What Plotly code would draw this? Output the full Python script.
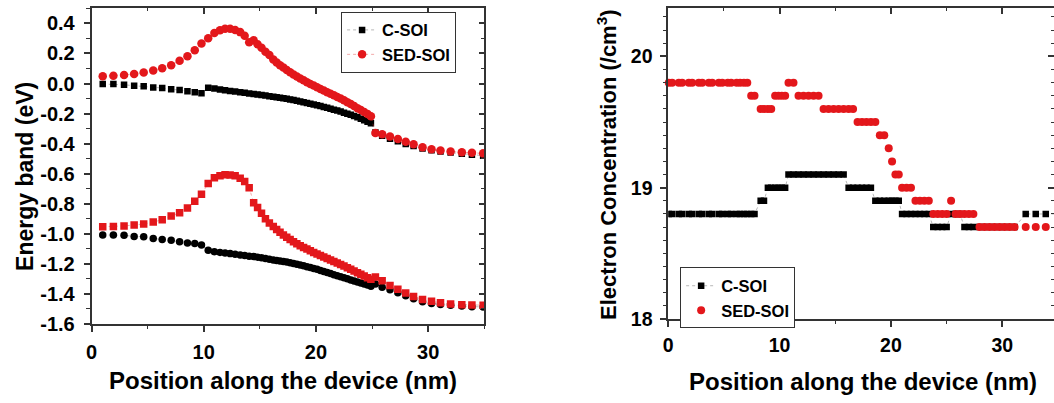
import plotly.graph_objects as go

# ---------------- Energy band panel ----------------
pos_nm = [
    1.0, 1.95, 2.9, 3.8, 4.65, 5.5, 6.3, 7.1, 7.85, 8.55,
    9.2, 9.8, 10.4, 10.95, 11.45, 11.9, 12.35, 12.8, 13.25, 13.65,
    14.05, 14.45, 14.8, 15.15, 15.5, 15.85, 16.2, 16.5, 16.8, 17.1,
    17.4, 17.7, 18.0, 18.3, 18.6, 18.9, 19.2, 19.5, 19.8, 20.1,
    20.4, 20.7, 21.0, 21.3, 21.6, 21.9, 22.2, 22.5, 22.8, 23.1,
    23.4, 23.7, 24.0, 24.3, 24.6, 24.9, 25.3, 25.9, 26.6, 27.3,
    28.0, 28.7, 29.5, 30.3, 31.1, 32.0, 33.0, 33.9, 34.9,
]

# conduction band edge
csoi_ec = [
    -0.004, -0.004, -0.008, -0.015, -0.019, -0.026, -0.030, -0.039, -0.043, -0.052,
    -0.058, -0.065, -0.028, -0.034, -0.040, -0.045, -0.050, -0.054, -0.058, -0.062,
    -0.066, -0.070, -0.073, -0.077, -0.080, -0.084, -0.088, -0.091, -0.094, -0.098,
    -0.102, -0.106, -0.110, -0.115, -0.119, -0.124, -0.129, -0.134, -0.139, -0.144,
    -0.150, -0.156, -0.162, -0.168, -0.174, -0.180, -0.187, -0.194, -0.201, -0.208,
    -0.216, -0.225, -0.234, -0.244, -0.254, -0.265, -0.326, -0.347, -0.368, -0.385,
    -0.403, -0.416, -0.432, -0.444, -0.452, -0.460, -0.467, -0.474, -0.480,
]
sed_ec = [
    0.048, 0.052, 0.057, 0.063, 0.073, 0.086, 0.101, 0.122, 0.151, 0.182,
    0.222, 0.266, 0.302, 0.336, 0.355, 0.364, 0.364, 0.356, 0.342, 0.318,
    0.275, 0.288, 0.262, 0.238, 0.212, 0.189, 0.160, 0.140, 0.122, 0.107,
    0.090, 0.075, 0.060, 0.047, 0.034, 0.021, 0.009, -0.003, -0.014, -0.025,
    -0.036, -0.047, -0.058, -0.068, -0.078, -0.089, -0.100, -0.112, -0.124, -0.137,
    -0.150, -0.164, -0.177, -0.190, -0.203, -0.218, -0.330, -0.338, -0.352, -0.370,
    -0.388, -0.405, -0.425, -0.438, -0.446, -0.452, -0.457, -0.461, -0.465,
]

# valence band edge
csoi_ev = [
    -1.008, -1.009, -1.010, -1.018, -1.020, -1.031, -1.038, -1.044, -1.053, -1.061,
    -1.065, -1.074, -1.110, -1.119, -1.124, -1.128, -1.132, -1.137, -1.141, -1.145,
    -1.149, -1.152, -1.156, -1.160, -1.165, -1.170, -1.174, -1.178, -1.181, -1.184,
    -1.188, -1.193, -1.198, -1.203, -1.208, -1.213, -1.219, -1.225, -1.231, -1.237,
    -1.244, -1.251, -1.258, -1.265, -1.272, -1.279, -1.286, -1.293, -1.300, -1.307,
    -1.314, -1.321, -1.328, -1.334, -1.341, -1.349, -1.334, -1.356, -1.373, -1.393,
    -1.412, -1.432, -1.452, -1.464, -1.470, -1.476, -1.481, -1.485, -1.487,
]
sed_ev = [
    -0.953, -0.952, -0.948, -0.942, -0.935, -0.922, -0.907, -0.882, -0.860, -0.828,
    -0.784, -0.737, -0.666, -0.628, -0.614, -0.607, -0.609, -0.614, -0.630, -0.652,
    -0.693, -0.794, -0.826, -0.864, -0.900, -0.928, -0.952, -0.972, -0.990, -1.008,
    -1.024, -1.039, -1.053, -1.066, -1.079, -1.091, -1.102, -1.113, -1.124, -1.134,
    -1.144, -1.154, -1.164, -1.174, -1.184, -1.194, -1.204, -1.215, -1.226, -1.237,
    -1.248, -1.259, -1.270, -1.281, -1.292, -1.302, -1.287, -1.313, -1.345, -1.370,
    -1.395, -1.418, -1.437, -1.450, -1.460, -1.467, -1.472, -1.474, -1.475,
]

energy_tickvals = [0.4, 0.2, 0.0, -0.2, -0.4, -0.6, -0.8, -1.0, -1.2, -1.4, -1.6]
energy_ticktext = ["0.4", "0.2", "0.0", "-0.2", "-0.4", "-0.6", "-0.8",
                   "-1.0", "-1.2", "-1.4", "-1.6"]

# ---------------- Electron concentration panel ----------------
pos_conc = [
    0.05, 0.35, 0.95, 1.25, 1.85, 2.15, 2.75, 3.05, 3.65, 3.95,
    4.55, 4.85, 5.35, 5.65, 6.15, 6.45, 6.8, 7.1, 7.45, 7.75,
    8.3, 8.6, 8.95, 9.25, 9.6, 9.9, 10.2, 10.5, 10.8, 11.25,
    11.7, 12.15, 12.6, 13.05, 13.5, 13.95, 14.4, 14.85, 15.3, 15.75,
    16.2, 16.6, 17.0, 17.4, 17.8, 18.2, 18.6, 19.0, 19.4, 19.8,
    20.1, 20.4, 20.7, 21.0, 21.4, 21.8, 22.2, 22.6, 23.0, 23.4,
    23.8, 24.2, 24.6, 25.0, 25.4, 25.8, 26.2, 26.6, 27.0, 27.4,
    27.95, 28.4, 28.85, 29.3, 29.75, 30.2, 30.65, 31.1, 32.1, 33.0,
    33.9, 34.65,
]
csoi_n = [
    18.8, 18.8, 18.8, 18.8, 18.8, 18.8, 18.8, 18.8, 18.8, 18.8,
    18.8, 18.8, 18.8, 18.8, 18.8, 18.8, 18.8, 18.8, 18.8, 18.8,
    18.9, 18.9, 19.0, 19.0, 19.0, 19.0, 19.0, 19.0, 19.1, 19.1,
    19.1, 19.1, 19.1, 19.1, 19.1, 19.1, 19.1, 19.1, 19.1, 19.1,
    19.0, 19.0, 19.0, 19.0, 19.0, 19.0, 18.9, 18.9, 18.9, 18.9,
    18.9, 18.9, 18.9, 18.8, 18.8, 18.8, 18.8, 18.8, 18.8, 18.8,
    18.7, 18.7, 18.7, 18.7, 18.8, 18.8, 18.8, 18.7, 18.7, 18.7,
    18.7, 18.7, 18.7, 18.7, 18.7, 18.7, 18.7, 18.7, 18.8, 18.8,
    18.8, 18.8,
]
sed_n = [
    19.8, 19.8, 19.8, 19.8, 19.8, 19.8, 19.8, 19.8, 19.8, 19.8,
    19.8, 19.8, 19.8, 19.8, 19.8, 19.8, 19.8, 19.8, 19.7, 19.7,
    19.6, 19.6, 19.6, 19.6, 19.7, 19.7, 19.7, 19.7, 19.8, 19.8,
    19.7, 19.7, 19.7, 19.7, 19.7, 19.6, 19.6, 19.6, 19.6, 19.6,
    19.6, 19.6, 19.5, 19.5, 19.5, 19.5, 19.5, 19.4, 19.4, 19.3,
    19.2, 19.1, 19.1, 19.0, 19.0, 19.0, 18.9, 18.9, 18.9, 18.9,
    18.8, 18.8, 18.8, 18.8, 18.9, 18.8, 18.8, 18.8, 18.8, 18.8,
    18.7, 18.7, 18.7, 18.7, 18.7, 18.7, 18.7, 18.7, 18.7, 18.7,
    18.7, 18.8,
]

conc_tickvals = [18, 19, 20]
conc_ticktext = ["18", "19", "20"]

# ---------------- styling ----------------
W, H = 1054, 403
FONT = "Arial, Liberation Sans, sans-serif"
RED = "#e3171b"
BLACK = "#000000"
AXIS = "#333333"


def px_x(p):
    return p / W


def px_y(p):
    return 1 - p / H


left_dom_x = [px_x(86), px_x(481)]
left_dom_y = [px_y(333), px_y(8)]
right_dom_x = [px_x(666), 1.0]
right_dom_y = [px_y(328), px_y(8)]
x_range_left = [0, 35]
x_range_right = [0, 34.64]
y_range_left = [-1.6, 0.504]
y_range_right = [18, 20.37]

fig = go.Figure()

dot_black = dict(color="rgba(90,90,90,0.55)", width=0.8, dash="dot")
dot_red = dict(color="rgba(225,60,60,0.55)", width=0.8, dash="dot")

# left panel: black first so red sits on top
fig.add_trace(go.Scatter(
    x=pos_nm, y=csoi_ec, name="C-SOI", mode="lines+markers",
    line=dot_black, marker=dict(symbol="square", size=6.5, color=BLACK),
    legend="legend", xaxis="x", yaxis="y"))
fig.add_trace(go.Scatter(
    x=pos_nm, y=sed_ec, name="SED-SOI", mode="lines+markers",
    line=dot_red, marker=dict(symbol="circle", size=8.5, color=RED),
    legend="legend", xaxis="x", yaxis="y"))
fig.add_trace(go.Scatter(
    x=pos_nm, y=csoi_ev, name="C-SOI", mode="lines+markers", showlegend=False,
    line=dot_black, marker=dict(symbol="circle", size=7.5, color=BLACK),
    xaxis="x", yaxis="y"))
fig.add_trace(go.Scatter(
    x=pos_nm, y=sed_ev, name="SED-SOI", mode="lines+markers", showlegend=False,
    line=dot_red, marker=dict(symbol="square", size=7.5, color=RED),
    xaxis="x", yaxis="y"))

# right panel
fig.add_trace(go.Scatter(
    x=pos_conc, y=csoi_n, name="C-SOI", mode="lines+markers",
    line=dot_black, marker=dict(symbol="square", size=6.5, color=BLACK),
    legend="legend2", xaxis="x2", yaxis="y2"))
fig.add_trace(go.Scatter(
    x=pos_conc, y=sed_n, name="SED-SOI", mode="markers", cliponaxis=False,
    marker=dict(symbol="circle", size=8, color=RED),
    legend="legend2", xaxis="x2", yaxis="y2"))

# empty traces so the mirrored (inward-tick) frame axes get drawn
fig.add_trace(go.Scatter(x=[], y=[], xaxis="x3", yaxis="y3", showlegend=False, hoverinfo="skip"))
fig.add_trace(go.Scatter(x=[], y=[], xaxis="x4", yaxis="y4", showlegend=False, hoverinfo="skip"))

tickfont = dict(family=FONT, size=20, color=BLACK, weight="bold")
tickfont_r = dict(family=FONT, size=19.5, color=BLACK, weight="bold")
common = dict(showgrid=False, zeroline=False, showline=True, linecolor=AXIS,
              linewidth=1.5, tickcolor=AXIS, tickwidth=1.5)


def minor(dt, t0, side):
    return dict(tickmode="linear", tick0=t0, dtick=dt, ticks=side,
                ticklen=3.5, tickcolor=AXIS, tickwidth=1.2)


fig.update_layout(
    width=W, height=H,
    margin=dict(l=0, r=0, t=0, b=0),
    paper_bgcolor="white", plot_bgcolor="white",
    font=dict(family=FONT, color=BLACK),
    showlegend=True,
    xaxis=dict(domain=left_dom_x, anchor="y", range=x_range_left,
               tickmode="linear", tick0=0, dtick=10, ticks="outside", ticklen=6,
               ticklabelstandoff=3, minor=minor(5, 0, "outside"),
               tickfont=tickfont, **common),
    yaxis=dict(domain=left_dom_y, anchor="x", range=y_range_left,
               tickmode="array", tickvals=energy_tickvals, ticktext=energy_ticktext,
               ticks="outside", ticklen=6, ticklabelstandoff=5,
               minor=minor(0.1, 0, "outside"),
               tickfont=tickfont, **common),
    xaxis3=dict(overlaying="x", anchor="y", side="top", range=x_range_left,
                tickmode="linear", tick0=0, dtick=10, ticks="inside", ticklen=6,
                showticklabels=False, minor=minor(5, 0, "inside"), **common),
    yaxis3=dict(overlaying="y", anchor="x", side="right", range=y_range_left,
                tickmode="array", tickvals=energy_tickvals, ticks="inside", ticklen=6,
                showticklabels=False, minor=minor(0.1, 0, "inside"), **common),
    xaxis2=dict(domain=right_dom_x, anchor="y2", range=x_range_right,
                tickmode="linear", tick0=0, dtick=10, ticks="outside", ticklen=6,
                ticklabelstandoff=2, minor=minor(5, 0, "outside"),
                tickfont=tickfont_r, **common),
    yaxis2=dict(domain=right_dom_y, anchor="x2", range=y_range_right,
                tickmode="array", tickvals=conc_tickvals, ticktext=conc_ticktext,
                ticks="outside", ticklen=6, ticklabelstandoff=4,
                minor=minor(0.1, 18, "outside"),
                tickfont=tickfont_r, **common),
    xaxis4=dict(overlaying="x2", anchor="y2", side="top", range=x_range_right,
                tickmode="linear", tick0=0, dtick=10, ticks="inside", ticklen=6,
                showticklabels=False, minor=minor(5, 0, "inside"), **common),
    yaxis4=dict(overlaying="y2", anchor="x2", side="right", range=y_range_right,
                tickmode="array", tickvals=conc_tickvals, ticks="inside", ticklen=6,
                showticklabels=False, minor=minor(0.1, 18, "inside"), **common),
    legend=dict(x=px_x(337), y=px_y(12), xanchor="left", yanchor="top",
                bgcolor="white", bordercolor=AXIS, borderwidth=1,
                font=dict(family=FONT, size=16.5, color=BLACK, weight="bold"),
                tracegroupgap=0, itemwidth=30),
    legend2=dict(x=px_x(678), y=px_y(275), xanchor="left", yanchor="top",
                 bgcolor="white", bordercolor=AXIS, borderwidth=1,
                 font=dict(family=FONT, size=16.5, color=BLACK, weight="bold"),
                 tracegroupgap=0, itemwidth=30),
)

title_font = dict(family=FONT, size=23, color=BLACK, weight="bold")
fig.add_annotation(text="Energy band (eV)", xref="paper", yref="paper",
                   x=px_x(19), y=px_y(181), textangle=-90, showarrow=False,
                   font=title_font, xanchor="center", yanchor="middle")
fig.add_annotation(text="Position along the device (nm)", xref="paper", yref="paper",
                   x=px_x(279), y=px_y(391), showarrow=False,
                   font=dict(family=FONT, size=24, color=BLACK, weight="bold"),
                   xanchor="center", yanchor="middle")
fig.add_annotation(text="Electron Concentration (/cm<sup>3</sup>)", xref="paper", yref="paper",
                   x=px_x(605), y=px_y(170), textangle=-90, showarrow=False,
                   font=dict(family=FONT, size=22, color=BLACK, weight="bold"),
                   xanchor="center", yanchor="middle")
fig.add_annotation(text="Position along the device (nm)", xref="paper", yref="paper",
                   x=px_x(862), y=px_y(392), showarrow=False,
                   font=dict(family=FONT, size=24, color=BLACK, weight="bold"),
                   xanchor="center", yanchor="middle")

fig.write_html("out.html")
